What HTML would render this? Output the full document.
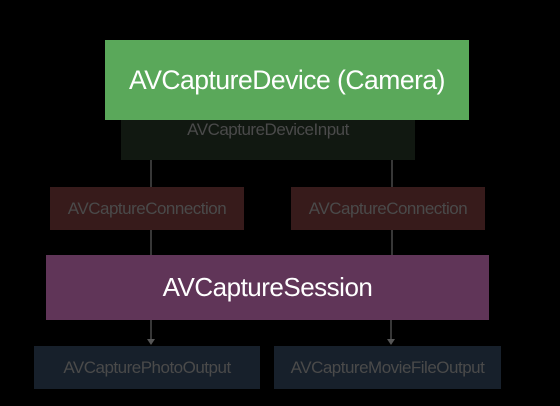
<!DOCTYPE html>
<html><head><style>
body{margin:0;width:560px;height:406px;background:#000;position:relative;overflow:hidden;font-family:"Liberation Sans",sans-serif}
.b{position:absolute;display:flex;align-items:center;justify-content:center;color:#4a4a4a;font-size:17px;letter-spacing:-0.5px}
</style></head><body>
<div class="b" style="left:121px;top:118px;width:294px;height:42px;background:#111811;align-items:flex-start"><span style="margin-top:2px">AVCaptureDeviceInput</span></div>
<div class="b" style="left:105px;top:40px;width:364px;height:80px;background:#5aa85a;color:#fff;font-size:26.5px">AVCaptureDevice (Camera)</div>
<svg style="position:absolute;left:0;top:0" width="560" height="406">
<g stroke="#555" stroke-width="1.3" fill="#555">
<line x1="151" y1="160" x2="151" y2="187"/><line x1="392" y1="160" x2="392" y2="187"/>
<line x1="151" y1="230" x2="151" y2="255"/><line x1="392" y1="230" x2="392" y2="255"/>
<line x1="151" y1="320" x2="151" y2="340"/><line x1="391" y1="320" x2="391" y2="340"/>
<path d="M147 339 L155 339 L151 345Z" stroke="none"/><path d="M387 339 L395 339 L391 345Z" stroke="none"/>
</g></svg>
<div class="b" style="left:50px;top:187px;width:194px;height:43px;background:#371b1b">AVCaptureConnection</div>
<div class="b" style="left:291px;top:187px;width:194px;height:43px;background:#371b1b">AVCaptureConnection</div>
<div class="b" style="left:46px;top:255px;width:443px;height:65px;background:#603558;color:#fff;font-size:26px">AVCaptureSession</div>
<div class="b" style="left:34px;top:346px;width:226px;height:43px;background:#17202b">AVCapturePhotoOutput</div>
<div class="b" style="left:274px;top:346px;width:227px;height:43px;background:#17202b">AVCaptureMovieFileOutput</div>
</body></html>
